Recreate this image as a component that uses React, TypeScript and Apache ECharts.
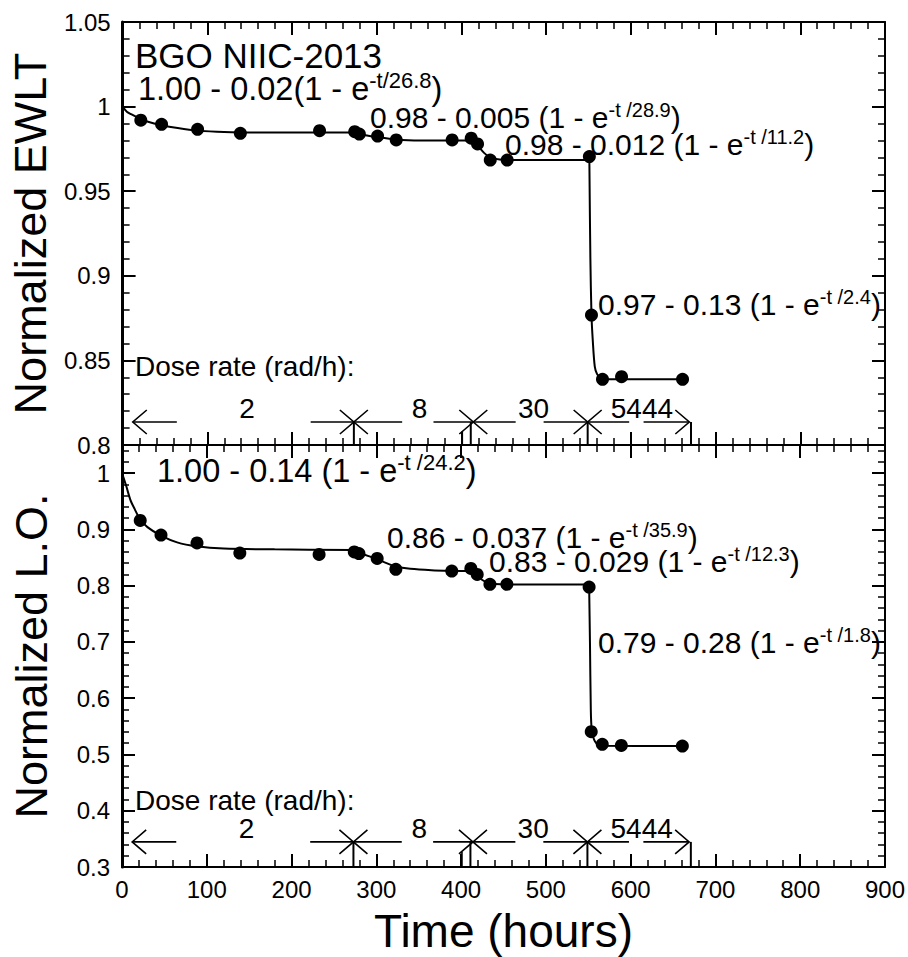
import React, { useEffect, useRef } from 'react';
import * as echarts from 'echarts';

const FONT = '"Liberation Sans", Arial, Helvetica, sans-serif';
const INK = '#000';

// Measurement times (hours), shared by both panels
const hours = [21.5, 46, 88.5, 139, 232.5, 274, 279.5, 301, 323, 389, 411.5, 419, 434, 454, 551, 553.5, 566.5, 589, 661];
// Normalized EWLT at each measurement
const ewlt = [0.992, 0.9895, 0.9866, 0.9842, 0.9858, 0.9852, 0.9838, 0.9826, 0.9803, 0.9803, 0.9813, 0.9779, 0.9684, 0.9684, 0.9705, 0.8768, 0.8388, 0.8404, 0.8388];
// Normalized light output at each measurement
const lightOutput = [0.916, 0.89, 0.876, 0.858, 0.8556, 0.86, 0.857, 0.8485, 0.829, 0.826, 0.8307, 0.82, 0.8023, 0.8023, 0.7975, 0.5405, 0.518, 0.516, 0.515];

// Fitted curves, one per dose-rate step
const ewltFit1 = [[0, 1.0], [5, 0.997], [10, 0.9955], [20, 0.993], [30, 0.991], [46, 0.989], [65, 0.9873], [88, 0.9858], [120, 0.985], [180, 0.9847], [273, 0.9847]];
const ewltFit2 = [[273, 0.9847], [280, 0.9838], [290, 0.9828], [301, 0.982], [315, 0.981], [330, 0.9803], [360, 0.98], [414, 0.98]];
const ewltFit3 = [[414, 0.98], [420, 0.9765], [427, 0.9725], [434, 0.97], [445, 0.9687], [460, 0.9684], [551, 0.9684]];
const ewltFit4 = [[551, 0.9684], [552.2, 0.91], [553.5, 0.877], [555, 0.862], [557.4, 0.8463], [560, 0.842], [564, 0.8395], [570, 0.8388], [661, 0.8388]];

const loFit1 = [[0, 1.0], [5, 0.977], [10, 0.952], [15, 0.936], [21, 0.919], [30, 0.904], [46, 0.889], [65, 0.877], [88, 0.87], [120, 0.866], [180, 0.8645], [273, 0.8635]];
const loFit2 = [[273, 0.8635], [280, 0.859], [290, 0.853], [301, 0.847], [312, 0.84], [323, 0.834], [340, 0.83], [365, 0.8275], [389, 0.8265], [414, 0.826]];
const loFit3 = [[414, 0.826], [419, 0.818], [425, 0.81], [432, 0.805], [440, 0.803], [455, 0.8022], [551, 0.802]];
const loFit4 = [[551, 0.802], [552, 0.7], [553, 0.58], [554, 0.545], [556, 0.53], [558, 0.523], [561, 0.518], [566, 0.5155], [661, 0.515]];

// Fit equations: main part, exponent, then closing bracket
const ewltEquations = [
  { main: '1.00 - 0.02(1 - e', sup: '-t/26.8' },
  { main: '0.98 - 0.005 (1 - e', sup: '-t /28.9' },
  { main: '0.98 - 0.012 (1 - e', sup: '-t /11.2' },
  { main: '0.97 - 0.13 (1 - e', sup: '-t /2.4' },
];
const loEquations = [
  { main: '1.00 - 0.14 (1 - e', sup: '-t /24.2' },
  { main: '0.86 - 0.037 (1 - e', sup: '-t /35.9' },
  { main: '0.83 - 0.029 (1 - e', sup: '-t /12.3' },
  { main: '0.79 - 0.28 (1 - e', sup: '-t /1.8' },
];

// Dose-rate steps (hours)
const doseRates = ['2', '8', '30', '5444'];
const doseLabelAt = [147, 350.6, 485, 613];
const arrowLeftTip = [12, 273, 414, 549];
const arrowLeftEnd = [64, 330, 464, 598];
const arrowRightStart = [222, 367, 497, 615];
const arrowRightTip = [273, 414, 549, 669];
const doseMarks = [0, 273, 411, 549, 671];
const doseShortMarks = [401];
const doseLevels = [0.8136, 0.3446];

// Annotation layout (x, baseline, font size) in page pixels
const ewltEqLayout = [[138, 100, 32.5], [370, 128, 30], [505, 155, 30], [598, 315, 30]];
const loEqLayout = [[157, 482, 32.5], [387, 548, 30], [489, 572, 30], [598, 653, 30]];
const doseTitleLayout = [[135, 376], [135, 810]];

const pairs = (xs: number[], ys: number[]) => xs.map((x, i) => [x, ys[i]]);

const axisLine = (w = 2) => ({ show: true, onZero: false, lineStyle: { color: INK, width: w } });
const axisTick = { show: true, inside: true, length: 13, lineStyle: { color: INK, width: 2 } };
const minorTick = { show: true, splitNumber: 5, length: 7, lineStyle: { color: INK, width: 1.5 } };

function xAxisDef(gridIndex: number, position: string, showLabels: boolean, extra: any = {}) {
  return {
    type: 'value', gridIndex, position, min: 0, max: 900, interval: 100,
    axisLine: axisLine(2), axisTick, minorTick, splitLine: { show: false },
    axisLabel: { show: showLabels, fontSize: 24, margin: 10, color: INK, fontFamily: FONT },
    ...extra,
  };
}

function yAxisDef(gridIndex: number, position: string, min: number, max: number, interval: number, showLabels: boolean, extra: any = {}) {
  return {
    type: 'value', gridIndex, position, min, max, interval,
    axisLine: axisLine(position === 'left' ? 3 : 2), axisTick, minorTick, splitLine: { show: false },
    axisLabel: { show: showLabels, fontSize: 24, margin: 12, color: INK, fontFamily: FONT, showMaxLabel: gridIndex === 0 },
    ...extra,
  };
}

function fitSeries(data: number[][], xi: number, yi: number) {
  return {
    type: 'line', data, xAxisIndex: xi, yAxisIndex: yi, showSymbol: false, smooth: 0.3,
    lineStyle: { color: INK, width: 2 }, z: 3, silent: true,
  };
}

function dotSeries(data: number[][], xi: number, yi: number) {
  return {
    type: 'scatter', data, xAxisIndex: xi, yAxisIndex: yi,
    symbol: 'circle', symbolSize: 13, itemStyle: { color: INK, opacity: 1 }, z: 5,
  };
}

function buildOption() {
  const title = { fontSize: 45, color: INK, fontFamily: FONT };
  return {
    animation: false,
    backgroundColor: '#fff',
    textStyle: { fontFamily: FONT },
    grid: [
      { left: 122, right: 23, top: 22, height: 423 },
      { left: 122, right: 23, top: 445, height: 422 },
    ],
    xAxis: [
      xAxisDef(0, 'bottom', false),
      xAxisDef(0, 'top', false),
      xAxisDef(1, 'bottom', true, {
        name: 'Time (hours)', nameLocation: 'middle', nameGap: 41,
        nameTextStyle: { fontSize: 46, color: INK, fontFamily: FONT },
      }),
      xAxisDef(1, 'top', false),
    ],
    yAxis: [
      yAxisDef(0, 'left', 0.8, 1.05, 0.05, true, {
        name: 'Normalized EWLT', nameLocation: 'middle', nameGap: 68, nameTextStyle: title,
      }),
      yAxisDef(0, 'right', 0.8, 1.05, 0.05, false),
      yAxisDef(1, 'left', 0.3, 1.05, 0.1, true, {
        name: 'Normalized L.O.', nameLocation: 'middle', nameGap: 68, nameTextStyle: title,
      }),
      yAxisDef(1, 'right', 0.3, 1.05, 0.1, false),
    ],
    series: [
      dotSeries(pairs(hours, ewlt), 0, 0),
      fitSeries(ewltFit1, 0, 0),
      fitSeries(ewltFit2, 0, 0),
      fitSeries(ewltFit3, 0, 0),
      fitSeries(ewltFit4, 0, 0),
      dotSeries(pairs(hours, lightOutput), 2, 2),
      fitSeries(loFit1, 2, 2),
      fitSeries(loFit2, 2, 2),
      fitSeries(loFit3, 2, 2),
      fitSeries(loFit4, 2, 2),
    ],
  };
}

// Plain text placed by its baseline
function textAt(x: number, baseline: number, size: number, text: string, align = 'left') {
  return {
    type: 'text', x, y: baseline - 0.3465 * size, z: 10,
    style: { text, fontSize: size, fontFamily: FONT, fill: INK, align, verticalAlign: 'middle' },
  };
}

// Fit equation with a raised exponent
function equationAt(x: number, baseline: number, size: number, eq: { main: string; sup: string }) {
  const supSize = size >= 32 ? 22 : 20;
  const rise = size >= 32 ? 12 : 11.5;
  const lh = 2 * (rise + 0.8465 * supSize - 0.3465 * size);
  const top = baseline - (lh / 2 + 0.3465 * size);
  return {
    type: 'text', x, y: top, z: 10,
    style: {
      text: `{m|${eq.main}}{s|${eq.sup}}{m|)}`,
      rich: {
        m: { fontSize: size, lineHeight: lh, verticalAlign: 'middle', fontFamily: FONT, fill: INK },
        s: { fontSize: supSize, lineHeight: supSize, verticalAlign: 'top', fontFamily: FONT, fill: INK },
      },
      fontSize: size, fontFamily: FONT, fill: INK, align: 'left', verticalAlign: 'top',
    },
  };
}

function buildGraphics(chart: any) {
  const els: any[] = [];
  els.push(textAt(135, 68, 35, 'BGO NIIC-2013'));
  ewltEquations.forEach((eq, i) => {
    const [x, b, s] = ewltEqLayout[i];
    els.push(equationAt(x, b, s, eq));
  });
  loEquations.forEach((eq, i) => {
    const [x, b, s] = loEqLayout[i];
    els.push(equationAt(x, b, s, eq));
  });

  [0, 1].forEach((p) => {
    const seriesIndex = p === 0 ? 0 : 5;
    const level = doseLevels[p];
    const floor = p === 0 ? 0.8 : 0.3;
    const P = (t: number, v: number) => chart.convertToPixel({ seriesIndex }, [t, v]) as number[];
    const stroke = { stroke: INK, lineWidth: 1.6, fill: 'none' };
    const seg = (a: number[], b: number[], w = 1.6) => ({
      type: 'line', z: 10, shape: { x1: a[0], y1: a[1], x2: b[0], y2: b[1] }, style: { stroke: INK, lineWidth: w },
    });

    doseMarks.forEach((t) => els.push(seg(P(t, level), P(t, floor), 2)));
    doseShortMarks.forEach((t) => els.push(seg(P(t, floor + 0.6 * (level - floor)), P(t, floor), 1.6)));

    doseRates.forEach((rate, i) => {
      const l0 = P(arrowLeftTip[i], level);
      const l1 = P(arrowLeftEnd[i], level);
      els.push(seg(l0, l1));
      els.push({
        type: 'polyline', z: 10,
        shape: { points: [[l0[0] + 14, l0[1] - 12], l0, [l0[0] + 14, l0[1] + 12]] },
        style: stroke,
      });
      const r0 = P(arrowRightStart[i], level);
      const r1 = P(arrowRightTip[i], level);
      els.push(seg(r0, r1));
      els.push({
        type: 'polyline', z: 10,
        shape: { points: [[r1[0] - 14, r1[1] - 12], r1, [r1[0] - 14, r1[1] + 12]] },
        style: stroke,
      });
      const c = P(doseLabelAt[i], level);
      els.push(textAt(c[0], c[1] - 4, 28, rate, 'center'));
    });

    const [tx, tb] = doseTitleLayout[p];
    els.push(textAt(tx, tb, 28, 'Dose rate (rad/h):'));
  });
  return els;
}

export default function App() {
  const ref = useRef<HTMLDivElement>(null);
  useEffect(() => {
    if (!ref.current) return;
    const chart = echarts.init(ref.current, null, { renderer: 'svg' });
    chart.setOption(buildOption() as any);
    chart.setOption({ graphic: { elements: buildGraphics(chart) } } as any);
    return () => chart.dispose();
  }, []);
  return (
    <div
      ref={ref}
      style={{ position: 'fixed', left: 0, top: 0, width: 908, height: 957, background: '#fff' }}
    />
  );
}
